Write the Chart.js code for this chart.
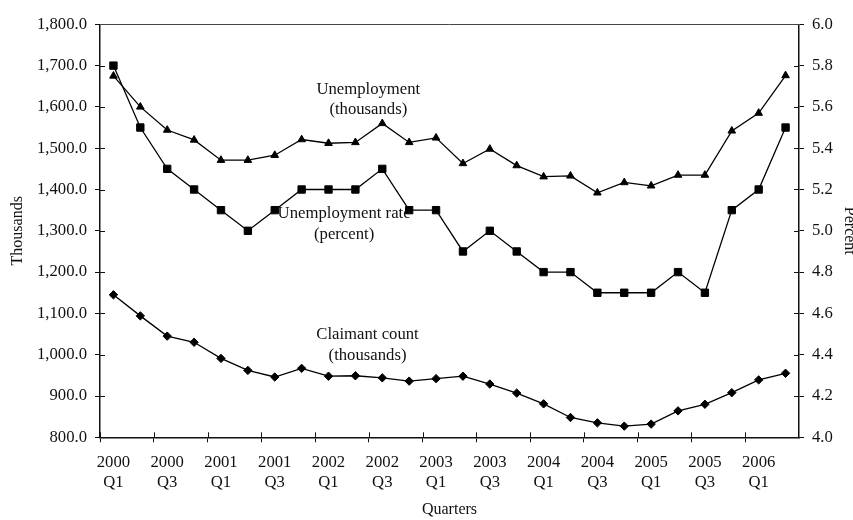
<!DOCTYPE html>
<html>
<head>
<meta charset="utf-8">
<script src="https://cdn.jsdelivr.net/npm/chart.js@4/dist/chart.umd.min.js"></script>
<style>
  html, body { margin: 0; padding: 0; background: #fff; overflow: hidden; }
  #wrap { width: 853px; height: 520px; overflow: hidden; }
  canvas { display: block; }
</style>
</head>
<body>
<div id="wrap"><canvas id="chart" width="870" height="520"></canvas></div>
<script>
// Quarterly series, 2000 Q1 to 2006 Q2
const quarterLabels = [
  '2000 Q1', '2000 Q2', '2000 Q3', '2000 Q4',
  '2001 Q1', '2001 Q2', '2001 Q3', '2001 Q4',
  '2002 Q1', '2002 Q2', '2002 Q3', '2002 Q4',
  '2003 Q1', '2003 Q2', '2003 Q3', '2003 Q4',
  '2004 Q1', '2004 Q2', '2004 Q3', '2004 Q4',
  '2005 Q1', '2005 Q2', '2005 Q3', '2005 Q4',
  '2006 Q1', '2006 Q2'
];

// Unemployment, thousands (left axis)
const unemployment = [
  1675, 1600, 1544, 1520, 1471, 1471, 1483, 1521, 1512, 1514,
  1560, 1514, 1525, 1463, 1498, 1458, 1431, 1433, 1392, 1417,
  1409, 1435, 1435, 1542, 1585, 1676
];

// Unemployment rate, percent (right axis)
const unemploymentRate = [
  5.8, 5.5, 5.3, 5.2, 5.1, 5.0, 5.1, 5.2, 5.2, 5.2,
  5.3, 5.1, 5.1, 4.9, 5.0, 4.9, 4.8, 4.8, 4.7, 4.7,
  4.7, 4.8, 4.7, 5.1, 5.2, 5.5
];

// Claimant count, thousands (left axis)
const claimantCount = [
  1145, 1094, 1045, 1030, 991, 962, 946, 967, 948, 949,
  944, 936, 942, 948, 929, 907, 881, 848, 835, 827,
  832, 864, 880, 908, 939, 955
];

// Series captions, anchored in data units (category index, thousands)
const seriesNotes = [
  { lines: ['Unemployment', '(thousands)'], at: [9.48, 1643] },
  { lines: ['Unemployment rate', '(percent)'], at: [8.58, 1341] },
  { lines: ['Claimant count', '(thousands)'], at: [9.45, 1049] }
];

const FONT = '"Liberation Serif", "Times New Roman", Times, serif';
const INK = '#111';
const TICK = 5;

// Axis ticks in this style cross the axis line: draw the inner half,
// plus the top edge of the plot frame.
const frameTicks = {
  id: 'frameTicks',
  afterDraw(chart) {
    const { ctx, chartArea: a, scales } = chart;
    ctx.save();
    ctx.strokeStyle = INK;
    ctx.lineWidth = 1;
    ctx.beginPath();
    scales.yL.ticks.forEach((t, i) => {
      const y = Math.round(scales.yL.getPixelForTick(i)) + 0.5;
      ctx.moveTo(a.left, y); ctx.lineTo(a.left + TICK, y);
    });
    scales.yR.ticks.forEach((t, i) => {
      const y = Math.round(scales.yR.getPixelForTick(i)) + 0.5;
      ctx.moveTo(a.right - TICK, y); ctx.lineTo(a.right, y);
    });
    scales.x.ticks.forEach((t, i) => {
      if (i % 2 !== 0) return;
      const x = Math.round(scales.x.getPixelForValue(i - 0.5)) + 0.5;
      ctx.moveTo(x, a.bottom - TICK); ctx.lineTo(x, a.bottom);
    });
    ctx.stroke();
    ctx.strokeStyle = '#444';
    ctx.beginPath();
    ctx.moveTo(a.left, Math.round(a.top) + 0.5);
    ctx.lineTo(a.right, Math.round(a.top) + 0.5);
    ctx.stroke();
    ctx.restore();
  }
};

// Captions next to each line
const seriesCaptions = {
  id: 'seriesCaptions',
  afterDatasetsDraw(chart) {
    const { ctx, scales } = chart;
    ctx.save();
    ctx.font = '16.7px ' + FONT;
    ctx.fillStyle = INK;
    ctx.textAlign = 'center';
    ctx.textBaseline = 'middle';
    seriesNotes.forEach(n => {
      const x = scales.x.getPixelForValue(n.at[0]);
      const y = scales.yL.getPixelForValue(n.at[1]);
      n.lines.forEach((line, k) => ctx.fillText(line, x, y + k * 20.8));
    });
    ctx.restore();
  }
};

const lineStyle = {
  borderColor: '#000',
  backgroundColor: '#000',
  pointBackgroundColor: '#000',
  pointBorderColor: '#000',
  pointBorderWidth: 1,
  borderWidth: 1.3,
  tension: 0,
  fill: false
};

new Chart(document.getElementById('chart'), {
  type: 'line',
  data: {
    labels: quarterLabels,
    datasets: [
      Object.assign({ label: 'Unemployment (thousands)', data: unemployment, yAxisID: 'yL',
        pointStyle: 'triangle', pointRadius: 4.4 }, lineStyle),
      Object.assign({ label: 'Unemployment rate (percent)', data: unemploymentRate, yAxisID: 'yR',
        pointStyle: 'rect', pointRadius: 5.2 }, lineStyle),
      Object.assign({ label: 'Claimant count (thousands)', data: claimantCount, yAxisID: 'yL',
        pointStyle: 'rectRot', pointRadius: 4.2 }, lineStyle)
    ]
  },
  options: {
    responsive: false,
    animation: false,
    events: [],
    layout: { padding: { top: 24.3, left: 0, right: 0, bottom: 0 } },
    plugins: { legend: { display: false }, tooltip: { enabled: false } },
    scales: {
      x: {
        type: 'category',
        offset: true,
        grid: {
          offset: true,
          drawOnChartArea: false,
          drawTicks: true,
          tickLength: TICK,
          tickWidth: 1,
          tickColor: c => (c.index !== undefined && c.index % 2 === 0) ? INK : 'rgba(0,0,0,0)'
        },
        border: { display: true, color: INK, width: 1.5 },
        ticks: {
          autoSkip: false,
          maxRotation: 0,
          minRotation: 0,
          padding: 10,
          color: INK,
          font: { family: FONT, size: 16.7, lineHeight: 1.2 },
          callback: (v, i) => i % 2 === 0 ? quarterLabels[i].split(' ') : ''
        },
        title: {
          display: true,
          text: 'Quarters',
          color: INK,
          font: { family: FONT, size: 16, lineHeight: 1.2 },
          padding: { top: 0, bottom: 0.5 }
        },
        afterFit: s => { s.height = 520 - 437.3; }
      },
      yL: {
        type: 'linear',
        position: 'left',
        min: 800,
        max: 1800,
        grid: { drawOnChartArea: false, drawTicks: true, tickLength: TICK, tickColor: INK, tickWidth: 1 },
        border: { display: true, color: INK, width: 1.5 },
        ticks: {
          stepSize: 100,
          padding: 8,
          color: INK,
          font: { family: FONT, size: 16.7, lineHeight: 1.2 },
          callback: v => v.toLocaleString('en-US', { minimumFractionDigits: 1, maximumFractionDigits: 1 })
        },
        title: {
          display: true,
          text: 'Thousands',
          color: INK,
          font: { family: FONT, size: 16, lineHeight: 1.2 },
          padding: { top: 8.3, bottom: 0 }
        },
        afterFit: s => { s.width = 100; }
      },
      yR: {
        type: 'linear',
        position: 'right',
        min: 4,
        max: 6,
        grid: { drawOnChartArea: false, drawTicks: true, tickLength: TICK, tickColor: INK, tickWidth: 1 },
        border: { display: true, color: INK, width: 1.5 },
        ticks: {
          stepSize: 0.2,
          padding: 8,
          color: INK,
          font: { family: FONT, size: 16.7, lineHeight: 1.2 },
          callback: v => Number(v).toFixed(1)
        },
        title: {
          display: true,
          text: 'Percent',
          color: INK,
          font: { family: FONT, size: 16, lineHeight: 1.2 },
          padding: { top: 11.5, bottom: 0 }
        },
        afterFit: s => { s.width = 870 - 799; }
      }
    }
  },
  plugins: [frameTicks, seriesCaptions]
});
</script>
</body>
</html>
